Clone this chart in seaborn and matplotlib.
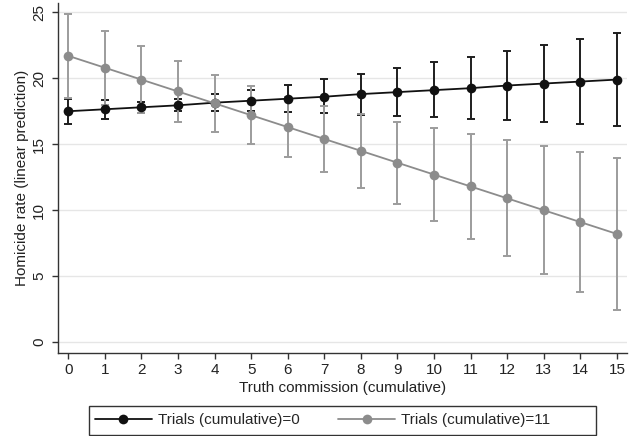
import matplotlib
matplotlib.use("Agg")
import matplotlib.pyplot as plt
from matplotlib.patches import Rectangle
import seaborn as sns
import numpy as np
import pandas as pd

truth = list(range(16))
labels = ["Trials (cumulative)=0", "Trials (cumulative)=11"]

mean0 = [17.5, 17.65, 17.8, 17.95, 18.15, 18.3, 18.45, 18.6, 18.8, 18.95, 19.1, 19.25, 19.45, 19.6, 19.75, 19.9]
low0 = [16.55, 16.95, 17.4, 17.5, 17.5, 17.5, 17.45, 17.38, 17.25, 17.15, 17.05, 16.9, 16.8, 16.65, 16.55, 16.42]
up0 = [18.45, 18.38, 18.2, 18.4, 18.78, 19.12, 19.5, 19.92, 20.33, 20.76, 21.2, 21.63, 22.09, 22.51, 22.97, 23.43]

mean11 = [21.7, 20.8, 19.9, 19.0, 18.1, 17.2, 16.3, 15.4, 14.5, 13.6, 12.7, 11.8, 10.9, 10.0, 9.1, 8.2]
low11 = [18.5, 18.0, 17.36, 16.68, 15.94, 15.0, 14.01, 12.9, 11.7, 10.48, 9.15, 7.85, 6.5, 5.15, 3.8, 2.46]
up11 = [24.9, 23.6, 22.44, 21.32, 20.26, 19.4, 18.6, 17.9, 17.3, 16.72, 16.25, 15.77, 15.31, 14.87, 14.42, 13.98]

df = pd.DataFrame({
    "truth": truth * 2,
    "rate": mean0 + mean11,
    "low": low0 + low11,
    "up": up0 + up11,
    "group": [labels[0]] * 16 + [labels[1]] * 16,
})

sns.set_style("white")
plt.rcParams["font.family"] = ["Liberation Sans", "DejaVu Sans"]

fig = plt.figure(figsize=(6.3, 4.36), dpi=100)
ax = fig.add_axes([0.092, 0.191, 0.903, 0.802])

line_colors = {labels[0]: "#111111", labels[1]: "#8c8c8c"}
bar_colors = {labels[0]: "#1e1e1e", labels[1]: "#9c9c9c"}

for g in labels:
    sub = df[df["group"] == g]
    ax.errorbar(sub["truth"], sub["rate"],
                yerr=[sub["rate"] - sub["low"], sub["up"] - sub["rate"]],
                fmt="none", ecolor=bar_colors[g], elinewidth=1.4,
                capsize=3.0, capthick=1.4, zorder=2)
    sns.lineplot(data=sub, x="truth", y="rate", color=line_colors[g],
                 marker="o", markersize=7, markeredgewidth=0,
                 linewidth=1.3, label=g, ax=ax, zorder=3)

ax.set_xlim(-0.28, 15.27)
ax.set_ylim(-0.8, 25.7)
ax.set_xticks(truth)
ax.set_yticks([0, 5, 10, 15, 20, 25])
ax.yaxis.grid(True, color="#e6e6e6", linewidth=1.0)
ax.set_axisbelow(True)
for s in ["top", "right"]:
    ax.spines[s].set_visible(False)
for s in ["left", "bottom"]:
    ax.spines[s].set_color("#333333")
    ax.spines[s].set_linewidth(1.0)
ax.tick_params(axis="both", which="major", direction="out", length=4.5,
               width=1.0, color="#333333", labelsize=11, labelcolor="#222222",
               left=True, bottom=True)
ax.tick_params(axis="y", pad=4)
ax.tick_params(axis="x", pad=3)
plt.setp(ax.get_yticklabels(), rotation=90, va="center")

ax.set_xlabel("Truth commission (cumulative)", fontsize=11, color="#222222", labelpad=3)
ax.set_ylabel("Homicide rate (linear prediction)", fontsize=11, color="#222222", labelpad=2)

ax.legend_.remove()
handles, lbls = ax.get_legend_handles_labels()
leg = fig.legend(handles, lbls, loc="center left", bbox_to_anchor=(95 / 630, 0.0367),
                 ncol=2, frameon=False, fontsize=11, handlelength=3.73,
                 columnspacing=2.5, borderpad=0, borderaxespad=0,
                 handletextpad=0.4)
fig.patches.append(Rectangle((89 / 630, 0.0023), 507 / 630, 29 / 436,
                             transform=fig.transFigure, fill=False,
                             edgecolor="#333333", linewidth=1.0))

fig.savefig("out.png", dpi=100)
